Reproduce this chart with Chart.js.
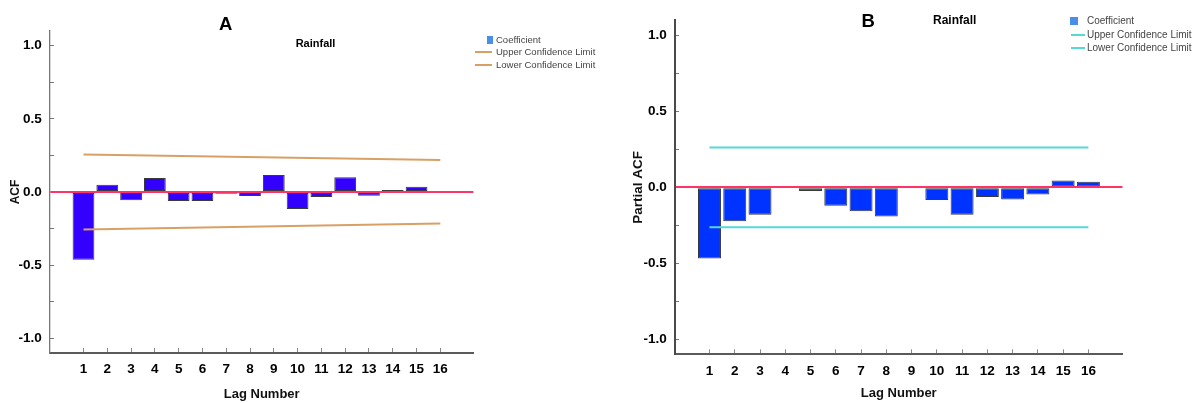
<!DOCTYPE html>
<html>
<head>
<meta charset="utf-8">
<script src="https://cdn.jsdelivr.net/npm/chart.js@4/dist/chart.umd.min.js"></script>
<style>
  html, body { margin: 0; padding: 0; background: #fff; }
  #wrap { position: relative; width: 1201px; height: 403px; overflow: hidden;
          font-family: "Liberation Sans", Arial, sans-serif; }
  #wrap canvas { position: absolute; top: 0; }
  .t { position: absolute; white-space: nowrap; transform: translate(-50%, -50%);
       font-weight: bold; color: #000; line-height: 1; }
  .lgText { position: absolute; white-space: nowrap; transform: translateY(-50%);
            color: #444; line-height: 1; }
  .lgMark { position: absolute; }
</style>
</head>
<body>
<div id="wrap">
  <canvas id="acfChart" width="600" height="403" style="left:0"></canvas>
  <canvas id="pacfChart" width="601" height="403" style="left:600px"></canvas>
  <div class="t" style="left:225.7px; top:24px; font-size:18.5px">A</div>
  <div class="t" style="left:315.5px; top:43.3px; font-size:11px">Rainfall</div>
  <div class="t" style="left:868.3px; top:21px; font-size:18.5px">B</div>
  <div class="t" style="left:954.7px; top:20px; font-size:12px">Rainfall</div>
</div>
<script>
// Lags shown on the horizontal axis
const lags = [1, 2, 3, 4, 5, 6, 7, 8, 9, 10, 11, 12, 13, 14, 15, 16];

// Autocorrelation coefficients of rainfall (panel A)
const acfRain = [-0.463, 0.050, -0.057, 0.096, -0.061, -0.061, -0.012, -0.027,
                 0.116, -0.116, -0.034, 0.100, -0.025, 0.014, 0.036, 0.000];
// Partial autocorrelation coefficients of rainfall (panel B)
const pacfRain = [-0.469, -0.224, -0.181, 0.000, -0.024, -0.121, -0.157, -0.192,
                  0.000, -0.084, -0.181, -0.063, -0.080, -0.047, 0.045, 0.037];

// Confidence limits, given at the first and last lag
const limitLags = [1, 16];
const acfUpper = [0.256, 0.219];
const acfLower = [-0.257, -0.216];
const pacfUpper = [0.263, 0.263];
const pacfLower = [-0.263, -0.263];

// Value-axis ticks: labelled every 0.5, unlabelled marks in between
const yTicks = [-1.0, -0.75, -0.5, -0.25, 0, 0.25, 0.5, 0.75, 1.0];

const FONT = '"Liberation Sans", Arial, sans-serif';
const ZERO_LINE = '#ff3366';

function points(xs, ys) {
  return xs.map((x, i) => ({ x: x, y: ys[i] }));
}

function isLabelled(v) {
  return Math.abs(v * 2 - Math.round(v * 2)) < 1e-9;
}

function makeChart(canvasId, cfg) {
  const datasets = [
    {
      type: 'bar',
      label: 'Coefficient',
      data: points(lags, cfg.values),
      backgroundColor: cfg.barColor,
      borderColor: '#3a3a3a',
      borderWidth: 1,
      borderSkipped: false,
      barPercentage: cfg.barPct,
      categoryPercentage: 1,
      order: 1
    },
    {
      type: 'line',
      label: 'Upper Confidence Limit',
      data: points(limitLags, cfg.upper),
      borderColor: cfg.limitColor,
      borderWidth: 2,
      pointRadius: 0,
      fill: false,
      order: 0
    },
    {
      type: 'line',
      label: 'Lower Confidence Limit',
      data: points(limitLags, cfg.lower),
      borderColor: cfg.limitColor,
      borderWidth: 2,
      pointRadius: 0,
      fill: false,
      order: 0
    }
  ];

  return new Chart(document.getElementById(canvasId), {
    type: 'bar',
    data: { datasets: datasets },
    options: {
      responsive: false,
      maintainAspectRatio: false,
      animation: false,
      events: [],
      layout: { padding: { left: 0, top: cfg.top, right: cfg.right, bottom: 0 } },
      plugins: { legend: { display: false }, tooltip: { enabled: false } },
      scales: {
        x: {
          type: 'linear',
          offset: false,
          min: cfg.xMin,
          max: cfg.xMax,
          afterBuildTicks: s => { s.ticks = lags.map(v => ({ value: v })); },
          afterFit: s => { s.height = cfg.xHeight; },
          ticks: {
            padding: cfg.xTickPad,
            color: '#000',
            font: { family: FONT, size: 13.5, weight: 'bold' },
            maxRotation: 0,
            autoSkip: false,
            callback: v => String(v)
          },
          grid: {
            offset: false,
            drawOnChartArea: false,
            drawTicks: true,
            tickLength: -5,
            tickColor: '#8a8a8a',
            tickWidth: 1
          },
          border: { display: true, color: '#5a5a5a', width: 2 },
          title: {
            display: true,
            text: 'Lag Number',
            color: '#111',
            font: { family: FONT, size: 13, weight: 'bold' },
            padding: { top: 0, bottom: cfg.xTitlePad }
          }
        },
        y: {
          min: -1.1,
          max: 1.1,
          afterBuildTicks: s => { s.ticks = yTicks.map(v => ({ value: v })); },
          afterFit: s => { s.width = cfg.yWidth; },
          ticks: {
            padding: 12.3,
            color: '#000',
            font: { family: FONT, size: 13.5, weight: 'bold' },
            callback: v => (isLabelled(v) ? v.toFixed(1) : '')
          },
          grid: {
            z: 1,
            drawOnChartArea: true,
            drawTicks: true,
            tickLength: -4,
            color: c => (c.tick && c.tick.value === 0 ? ZERO_LINE : 'rgba(0,0,0,0)'),
            lineWidth: c => (c.tick && c.tick.value === 0 ? 2 : 1),
            tickColor: c => (c.tick && c.tick.value !== 0 ? '#777' : 'rgba(0,0,0,0)'),
            tickWidth: 1
          },
          border: { display: true, z: 2, color: cfg.yBorderColor, width: cfg.yBorderWidth },
          title: {
            display: true,
            text: cfg.yTitle,
            color: '#111',
            font: { family: FONT, size: cfg.yTitleSize, weight: 'bold' },
            padding: { top: cfg.yTitlePad, bottom: 0 }
          }
        }
      }
    }
  });
}

// Legend drawn next to each panel from the chart's own datasets
function addLegend(chart, lg) {
  const wrap = document.getElementById('wrap');
  chart.data.datasets.forEach((ds, i) => {
    const cy = lg.y0 + i * lg.dy;
    const mark = document.createElement('div');
    mark.className = 'lgMark';
    if (ds.type === 'line') {
      mark.style.left = lg.lineX + 'px';
      mark.style.width = lg.lineW + 'px';
      mark.style.top = (cy - 1) + 'px';
      mark.style.height = '2px';
      mark.style.background = ds.borderColor;
    } else {
      mark.style.left = lg.sqX + 'px';
      mark.style.width = lg.sqW + 'px';
      mark.style.top = (cy - lg.sqH / 2) + 'px';
      mark.style.height = lg.sqH + 'px';
      mark.style.background = lg.sqColor;
    }
    wrap.appendChild(mark);
    const txt = document.createElement('div');
    txt.className = 'lgText';
    txt.style.left = lg.textX + 'px';
    txt.style.top = cy + 'px';
    txt.style.fontSize = lg.size + 'px';
    txt.textContent = ds.label;
    wrap.appendChild(txt);
  });
}

const acfChart = makeChart('acfChart', {
  values: acfRain, upper: acfUpper, lower: acfLower,
  barColor: '#3300ff', limitColor: '#d9a066', barPct: 0.915,
  top: 31, right: 126.6, xHeight: 50, yWidth: 50,
  xMin: -0.408, xMax: 17.39, xTickPad: 13, xTitlePad: 1.2,
  yTitle: 'ACF', yTitleSize: 12, yTitlePad: 8.5,
  yBorderColor: '#777', yBorderWidth: 1.3
});

const pacfChart = makeChart('pacfChart', {
  values: pacfRain, upper: pacfUpper, lower: pacfLower,
  barColor: '#0033ff', limitColor: '#55d8d8', barPct: 0.91,
  top: 12.3, right: 78.5, xHeight: 48.7, yWidth: 75,
  xMin: -0.365, xMax: 17.35, xTickPad: 13.6, xTitlePad: 2.2,
  yTitle: 'Partial ACF', yTitleSize: 13.5, yTitlePad: 29.9,
  yBorderColor: '#4a4a4a', yBorderWidth: 2
});

addLegend(acfChart, {
  y0: 39.7, dy: 12.5, sqX: 486.5, sqW: 6.5, sqH: 8, sqColor: '#4a8fe7',
  lineX: 475, lineW: 16.7, textX: 496, size: 9.5
});
addLegend(pacfChart, {
  y0: 21, dy: 13.5, sqX: 1070, sqW: 7.7, sqH: 7.7, sqColor: '#4a8fe7',
  lineX: 1071, lineW: 14, textX: 1087, size: 10
});
</script>
</body>
</html>
